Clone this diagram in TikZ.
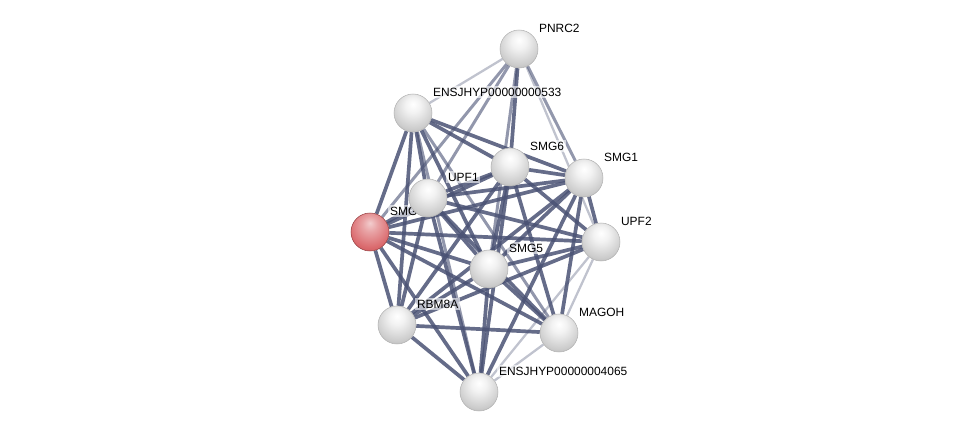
\documentclass[tikz,border=0pt]{standalone}
\usepackage{fontspec}
\setmainfont{Liberation Sans}
\usepackage{tikz}
\usetikzlibrary{positioning}
\pgfdeclarelayer{edges}
\pgfdeclarelayer{labels}
\pgfsetlayers{edges,labels,main}
\definecolor{edgecol}{RGB}{74,82,116}
\definecolor{ballred}{RGB}{214,88,92}
\pgfdeclareradialshading{protball}{\pgfpoint{0bp}{12bp}}{%
  color(0bp)=(white); color(10bp)=(white!95!black); color(28bp)=(white!80!black);
  color(44bp)=(white!62!black); color(56bp)=(white!48!black); color(70bp)=(white!40!black)}
\pgfdeclareradialshading{queryball}{\pgfpoint{0bp}{12bp}}{%
  color(0bp)=(ballred!30!white); color(10bp)=(ballred!55!white); color(28bp)=(ballred!90!white);
  color(44bp)=(ballred!85!black); color(56bp)=(ballred!65!black); color(70bp)=(ballred!50!black)}

\begin{document}
\begin{tikzpicture}[
  x=0.02cm, y=-0.02cm,
  prot/.style={circle, minimum size=0.76cm, inner sep=0pt, draw=gray!60, line width=0.3pt,
    shading=protball},
  query/.style={prot, shading=queryball, draw=ballred!70!black},
  lab/.style={anchor=west, font=\fontsize{6.8}{8}\selectfont, inner sep=1pt,
    fill=white, fill opacity=0.6, text opacity=1},
  strong/.style={draw=edgecol, line width=2.1pt, opacity=0.85},
  medium/.style={draw=edgecol, line width=1.7pt, opacity=0.6},
  weak/.style={draw=edgecol, line width=1.3pt, opacity=0.35}
]
\useasboundingbox (0,0) rectangle (976,438);

% proteins
\node[prot] (pnrc2) at (519,49) {};
\node[prot] (e533) at (413,113) {};
\node[prot] (smg6) at (510,167) {};
\node[prot] (smg1) at (584,178) {};
\node[prot] (upf1) at (428,198) {};
\node[query] (smg7) at (370,232) {};
\node[prot] (upf2) at (601,242) {};
\node[prot] (smg5) at (489,269) {};
\node[prot] (rbm8a) at (397,325) {};
\node[prot] (magoh) at (559,333) {};
\node[prot] (e4065) at (479,392) {};

% labels
\begin{pgfonlayer}{labels}
\node[lab] (pnrc2-l) at ([shift={(18,-21)}]pnrc2) {PNRC2};
\node[lab] (e533-l) at ([shift={(18,-21)}]e533) {ENSJHYP00000000533};
\node[lab] (smg6-l) at ([shift={(18,-21)}]smg6) {SMG6};
\node[lab] (smg1-l) at ([shift={(18,-21)}]smg1) {SMG1};
\node[lab] (upf1-l) at ([shift={(18,-21)}]upf1) {UPF1};
\node[lab] (smg7-l) at ([shift={(18,-21)}]smg7) {SMG7};
\node[lab] (upf2-l) at ([shift={(18,-21)}]upf2) {UPF2};
\node[lab] (smg5-l) at ([shift={(18,-21)}]smg5) {SMG5};
\node[lab] (rbm8a-l) at ([shift={(18,-21)}]rbm8a) {RBM8A};
\node[lab] (magoh-l) at ([shift={(18,-21)}]magoh) {MAGOH};
\node[lab] (e4065-l) at ([shift={(18,-21)}]e4065) {ENSJHYP00000004065};
\end{pgfonlayer}

% interactions
\begin{pgfonlayer}{edges}
\foreach \a/\b in {e533/smg6, e533/smg1, e533/upf1, e533/smg7, e533/smg5, e533/rbm8a,
    upf1/smg6, upf1/smg1, upf1/smg7, upf1/upf2, upf1/smg5, upf1/rbm8a, upf1/magoh, upf1/e4065,
    smg7/smg6, smg7/smg1, smg7/upf2, smg7/smg5, smg7/rbm8a, smg7/magoh, smg7/e4065,
    smg6/smg1, smg6/upf2, smg6/smg5, smg6/rbm8a, smg6/magoh, smg6/e4065,
    smg1/upf2, smg1/smg5, smg1/rbm8a, smg1/magoh, smg1/e4065,
    upf2/smg5, upf2/rbm8a, smg5/rbm8a, smg5/magoh, smg5/e4065,
    rbm8a/magoh, rbm8a/e4065, pnrc2/smg6}
  \draw[strong] (\a) -- (\b);
\foreach \a/\b in {pnrc2/upf1, pnrc2/smg7, pnrc2/smg5, pnrc2/smg1, e533/magoh, e533/e4065}
  \draw[medium] (\a) -- (\b);
\foreach \a/\b in {pnrc2/e533, pnrc2/upf2, magoh/e4065, upf2/magoh, upf2/e4065}
  \draw[weak] (\a) -- (\b);
\end{pgfonlayer}
\end{tikzpicture}
\end{document}
